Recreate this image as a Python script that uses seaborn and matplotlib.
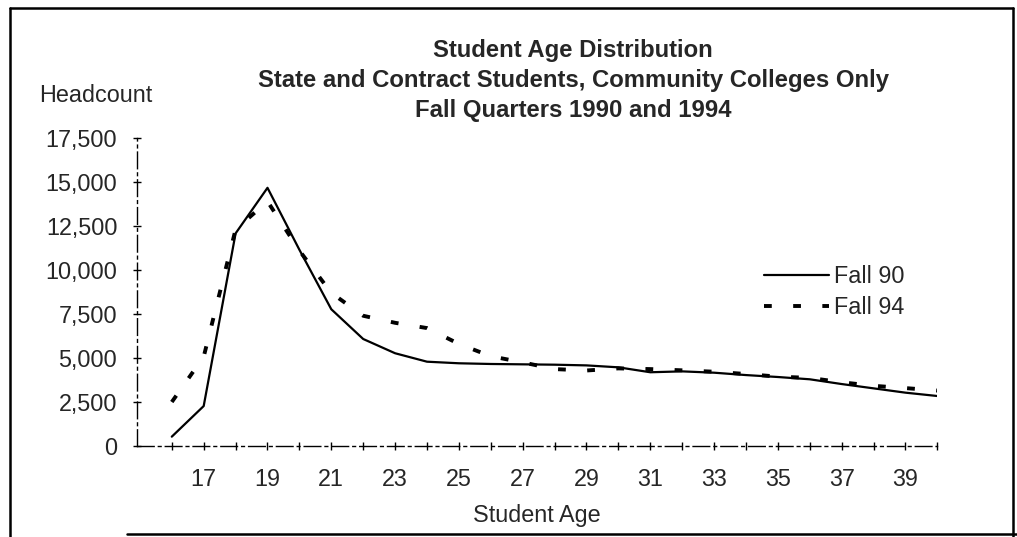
import numpy as np
import pandas as pd
import matplotlib
matplotlib.use("Agg")
import matplotlib.pyplot as plt
import seaborn as sns
from matplotlib.lines import Line2D
from matplotlib.ticker import FuncFormatter

# data
ages = list(range(16, 41))
fall_90 = [530, 2270, 12080, 14670, 11150, 7770, 6080, 5270, 4790, 4700,
           4660, 4640, 4620, 4580, 4470, 4190, 4240, 4165, 4030, 3920,
           3790, 3520, 3275, 3030, 2840]
fall_94 = [2500, 5070, 12300, 13900, 11100, 8700, 7400, 7000, 6700, 5800,
           5100, 4750, 4370, 4290, 4410, 4370, 4300, 4220, 4090, 3940,
           3870, 3620, 3420, 3290, 3150]

title_lines = ["Student Age Distribution",
               "State and Contract Students, Community Colleges Only",
               "Fall Quarters 1990 and 1994"]
y_ticks = [0, 2500, 5000, 7500, 10000, 12500, 15000, 17500]
x_labels = list(range(17, 40, 2))

df = pd.DataFrame({"Age": ages, "Fall 90": fall_90, "Fall 94": fall_94})

sns.set_style("ticks")
plt.rcParams['font.family'] = ['Liberation Sans', 'DejaVu Sans']

W, H = 1017, 537
FS = 16.8
fig = plt.figure(figsize=(W / 100, H / 100), dpi=100)
ax = fig.add_axes([136.7 / W, 1 - 446 / H, (937.4 - 136.7) / W, (446 - 138) / H])

sns.lineplot(data=df, x="Age", y="Fall 90", ax=ax, color="black", lw=1.6,
             label="Fall 90")
sns.lineplot(data=df, x="Age", y="Fall 94", ax=ax, color="black", lw=2.8,
             linestyle=(0, (2, 5.5)), label="Fall 94")

ax.set_xlim(14.9, 40)
ax.set_ylim(0, 17500)
ax.set_xticks(x_labels)
ax.set_xticks(ages, minor=True)
ax.set_yticks(y_ticks)
ax.yaxis.set_major_formatter(FuncFormatter(lambda v, p: f"{int(v):,}"))

ax.tick_params(axis="both", which="both", direction="inout", length=6,
               width=1, color="black", labelsize=FS)
ax.tick_params(axis="y", pad=11)
ax.tick_params(axis="x", pad=13)

sns.despine(ax=ax)
for side in ["left", "bottom"]:
    ax.spines[side].set_color("black")
    ax.spines[side].set_linewidth(1.0)
    ax.spines[side].set_linestyle((0, (12, 3, 2, 3)))

ax.set_xlabel("Student Age", fontsize=FS, labelpad=9)
ax.set_ylabel("Headcount", fontsize=FS, rotation=0, ha="left", va="center")
ax.yaxis.set_label_coords((39 - 136.7) / 800.7, (446 - 95) / 308)

ax.legend(loc="upper left", bbox_to_anchor=(764 / W, 1 - 265 / H),
          bbox_transform=fig.transFigure, frameon=False, fontsize=FS,
          handlelength=2.8, handletextpad=0.2, borderpad=0, borderaxespad=0,
          labelspacing=0.35)

# three-line bold title
for txt, ypx in zip(title_lines, [51, 80.5, 110.5]):
    fig.text(573 / W, 1 - ypx / H, txt, ha="center", va="center",
             fontsize=17.2, fontweight="bold")

# scanned page frame
frame = [([10, 10], [8, 537]), ([10, 1013], [8, 8]),
         ([1013, 1013], [8, 537]), ([127, 1017], [534, 534])]
for xs, ys in frame:
    fig.add_artist(Line2D([x / W for x in xs], [1 - y / H for y in ys],
                          transform=fig.transFigure, color="black", lw=1.8))

fig.savefig("out.png", dpi=100)
